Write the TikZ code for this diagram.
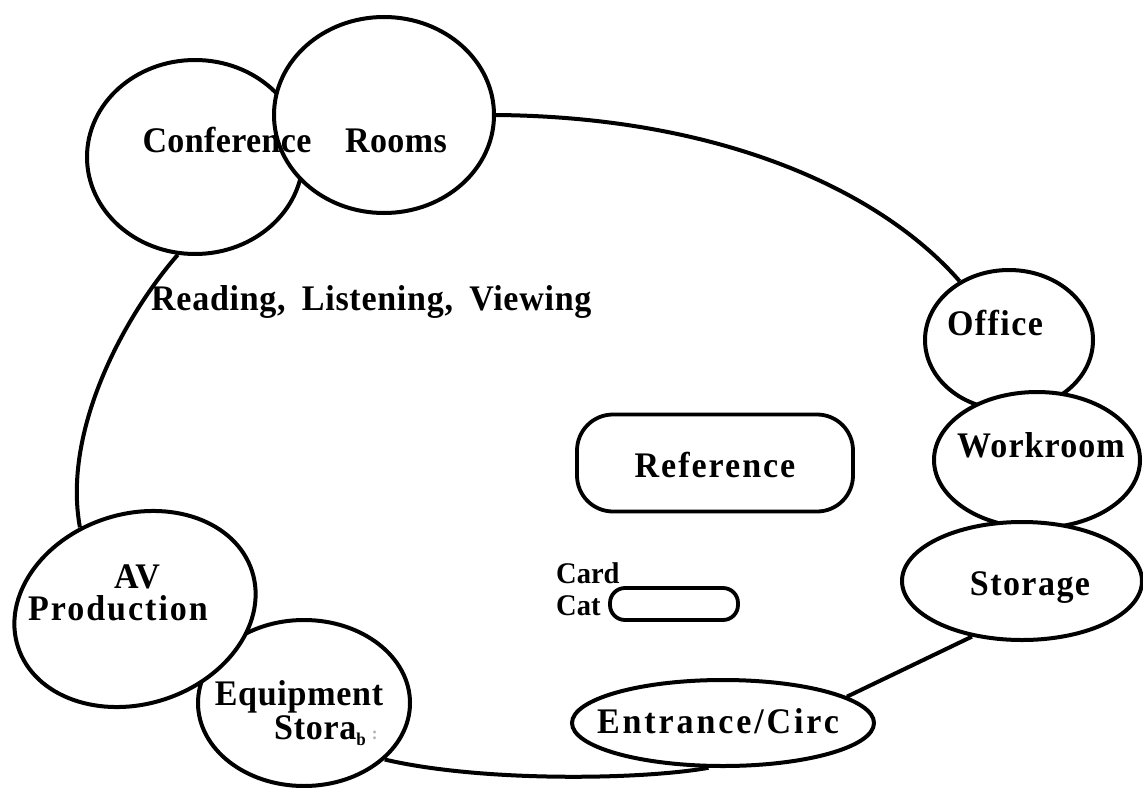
\documentclass[tikz,border=0pt]{standalone}
\usepackage{fontspec}
\setmainfont{Liberation Serif}
\usetikzlibrary{shapes.geometric}
\tikzset{
  room/.style={draw, ellipse, line width=4pt, fill=white, inner sep=0pt},
  desk/.style={draw, rectangle, line width=3.8pt, inner sep=0pt},
  link/.style={line width=4pt},
  lbl/.style={anchor=base, inner sep=0pt, font=\rmfamily\bfseries\fontsize{36}{40}\selectfont\addfontfeatures{FakeStretch=0.945,LetterSpace=#1}},
  lbl/.default=4,
  small/.style={anchor=base west, inner sep=0pt, font=\rmfamily\bfseries\fontsize{30}{32}\selectfont\addfontfeatures{FakeStretch=0.95}},
}
\begin{document}
\begin{tikzpicture}[x=1pt,y=-1pt]
\useasboundingbox (0,0) rectangle (1143,787);
% rooms (drawing order matters: later ones cover earlier ones)
\node[room, minimum width=216pt, minimum height=194pt] (conf) at (195,157) {};
\node[room, minimum width=220pt, minimum height=196pt] (rooms) at (384,115) {};
\node[room, minimum width=168pt, minimum height=140pt] (office) at (1009,340) {};
\node[room, minimum width=206pt, minimum height=136pt] (work) at (1037,460) {};
\node[room, minimum width=240pt, minimum height=118pt] (stor) at (1022,581) {};
\node[room, minimum width=212pt, minimum height=166pt] (equip) at (304,703) {};
\node[room, rotate=18, minimum width=246pt, minimum height=190pt] (av) at (135,609) {};
\node[room, minimum width=302pt, minimum height=86pt] (entr) at (723,723) {};
\node[desk, rounded corners=36pt, minimum width=276pt, minimum height=97pt] (ref) at (715,463) {};
\node[desk, rounded corners=15pt, minimum width=128pt, minimum height=32pt] (card) at (674,604) {};
% outer loop
\draw[link] (rooms.east) .. controls (720,117) and (880,190) .. (office.130);
\draw[link] (stor.228) -- (entr.12);
\draw[link] (entr.252) .. controls (640,780) and (480,782) .. (equip.325);
\draw[link] (av.106) .. controls (62,430) and (125,315) .. (conf.260);
% labels
\node[lbl=1] (tconf) at (227,152) {Conference};
\node[lbl=1] (trooms) at (396,152) {Rooms};
\node[lbl=2, anchor=base west] (tread) at (151,310) {Reading,\hspace{7pt} Listening,\hspace{7pt} Viewing};
\node[lbl=4] (toffice) at (995,335) {Office};
\node[lbl=3] (twork) at (1041,457) {Workroom};
\node[lbl=5.5] (tref) at (715,477) {Reference};
\node[lbl=4] (tstor) at (1030,595) {Storage};
\node[lbl=3] (tav) at (137,588) {AV};
\node[lbl=5.5] (tprod) at (118,620) {Production};
\node[small] (tcard) at (556,583) {Card};
\node[small] (tcat) at (556,615) {Cat};
\node[lbl=2] (tequip) at (299,705) {Equipment};
\node[lbl=2, anchor=base west] (tstora) at (274,739) {Stora\raisebox{-6pt}{\fontsize{18}{18}\selectfont b}\,{\color{gray!60}\fontsize{18}{18}\selectfont :}};
\node[lbl=8] (tentr) at (718,733) {Entrance/Circ};
\end{tikzpicture}
\end{document}
